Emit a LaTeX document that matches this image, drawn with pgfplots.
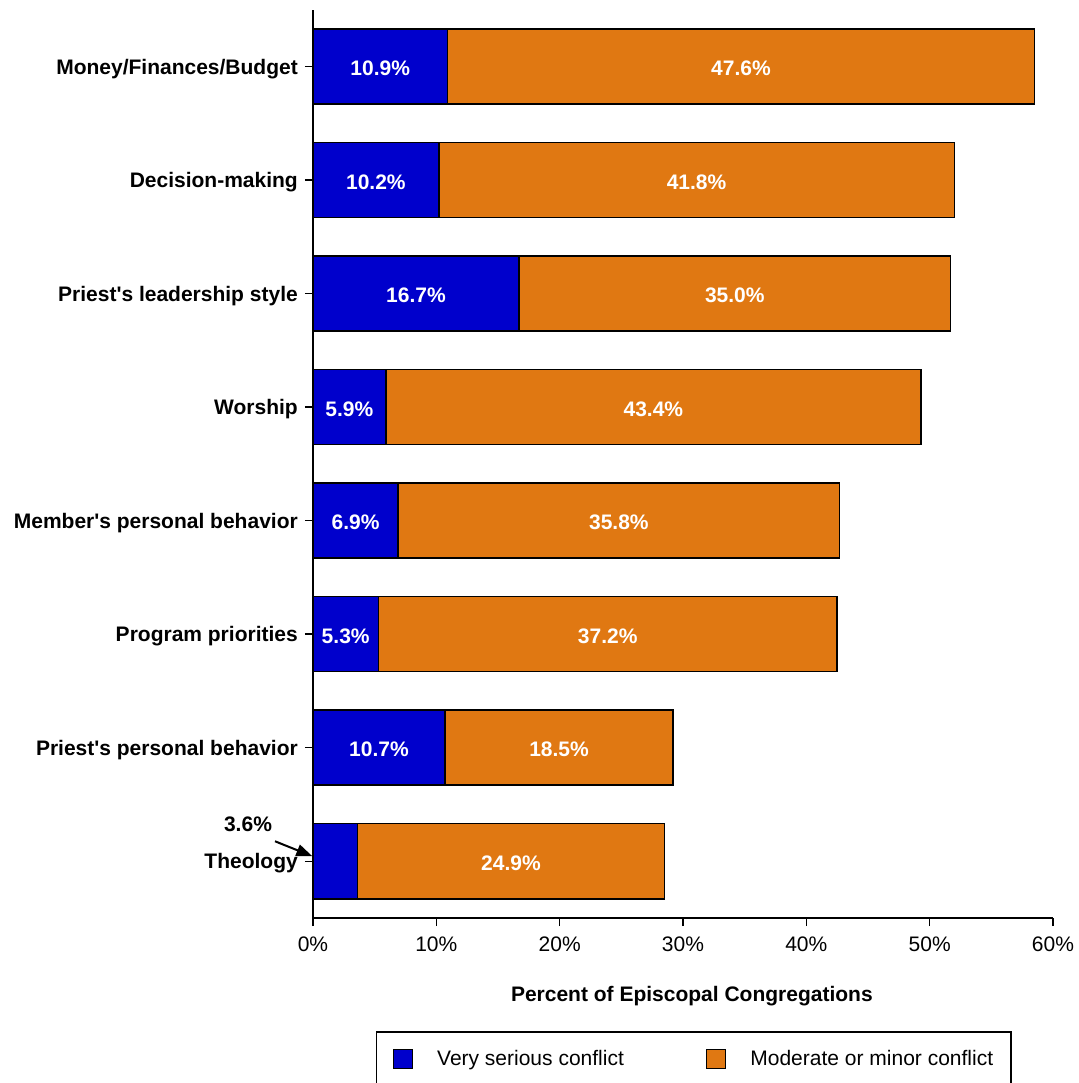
\documentclass[border=0pt]{standalone}
\usepackage{pgfplots}
\pgfplotsset{compat=1.18}
\usepackage{pgfplotstable}
\usepackage{fontspec}
\setmainfont{Liberation Sans}
\usetikzlibrary{arrows.meta}
\definecolor{myblue}{RGB}{0,0,204}
\definecolor{myorange}{RGB}{224,120,18}
\pgfplotstableread{
idx a b
0 3.6 24.9
1 10.7 18.5
2 5.3 37.2
3 6.9 35.8
4 5.9 43.4
5 16.7 35.0
6 10.2 41.8
7 10.9 47.6
}\data
\begin{document}
\fontsize{21}{25}\selectfont
\begin{tikzpicture}
\path[use as bounding box] (-313pt,-165pt) rectangle (765pt,918pt);
\begin{axis}[
 scale only axis, width=740pt, height=908pt,
 xmin=0, xmax=60, ymin=-0.5, ymax=7.5,
 axis x line*=bottom, axis y line*=left,
 axis line style={line width=1.5pt, black},
 every tick/.style={black, line width=1.5pt},
 tick align=outside, major tick length=8pt,
 xtick={0,10,...,60}, xticklabels={0\%,10\%,20\%,30\%,40\%,50\%,60\%},
 xticklabel style={yshift=-4pt},
 ytick={0,...,7},
 yticklabels={Theology, Priest\textquotesingle s personal behavior, Program priorities, Member\textquotesingle s personal behavior, Worship, Priest\textquotesingle s leadership style, Decision-making, Money/Finances/Budget},
 yticklabel style={font=\bfseries, yshift=-2pt},
 xlabel={\bfseries Percent of Episcopal Congregations},
 xlabel style={at={(axis description cs:0.512,-0.0859)}, anchor=center},
 /pgf/number format/assume math mode=true,
 clip=false,
 legend image code/.code={\draw[#1, line width=1.5pt] (0pt,-9.5pt) rectangle (19pt,9.5pt);},
 legend columns=2,
 legend cell align=left,
 legend style={at={(axis description cs:0.085,-0.1245)}, anchor=north west, draw=black, line width=1.5pt, inner xsep=16pt, inner ysep=16pt, font=\fontsize{21}{25}\selectfont,
   /tikz/every odd column/.append style={column sep=22pt},
   /tikz/every even column/.append style={column sep=80pt}},
]
\addplot[xbar, bar width=75pt, bar shift=0pt, fill=myorange, draw=black, line width=1.5pt, forget plot]
  table[x expr=\thisrow{a}+\thisrow{b}, y=idx]{\data};
\addplot[xbar, bar width=75pt, bar shift=0pt, fill=myblue, draw=black, line width=1.5pt, forget plot]
  table[x=a, y=idx]{\data};
\addplot[draw=none, mark=none, forget plot, point meta=explicit,
  nodes near coords={\pgfmathprintnumber[fixed,fixed zerofill,precision=1]{\pgfplotspointmeta}\%},
  every node near coord/.append style={anchor=center, text=white, font=\bfseries, yshift=-2pt},
  skip coords between index={0}{1}]
  table[x expr=\thisrow{a}/2, y=idx, meta=a]{\data};
\addplot[draw=none, mark=none, forget plot, point meta=explicit,
  nodes near coords={\pgfmathprintnumber[fixed,fixed zerofill,precision=1]{\pgfplotspointmeta}\%},
  every node near coord/.append style={anchor=center, text=white, font=\bfseries, yshift=-2pt}]
  table[x expr=\thisrow{a}+\thisrow{b}/2, y=idx, meta=b]{\data};
\node[font=\bfseries] at (axis cs:-5.27,0.326) {3.6\%};
\draw[-{Triangle[length=16pt,width=12pt]}, line width=2pt] (axis cs:-3.08,0.176) -- (axis cs:-0.05,0.044);
\addlegendimage{fill=myblue, draw=black}
\addlegendentry{Very serious conflict}
\addlegendimage{fill=myorange, draw=black}
\addlegendentry{Moderate or minor conflict}
\end{axis}
\end{tikzpicture}
\end{document}
